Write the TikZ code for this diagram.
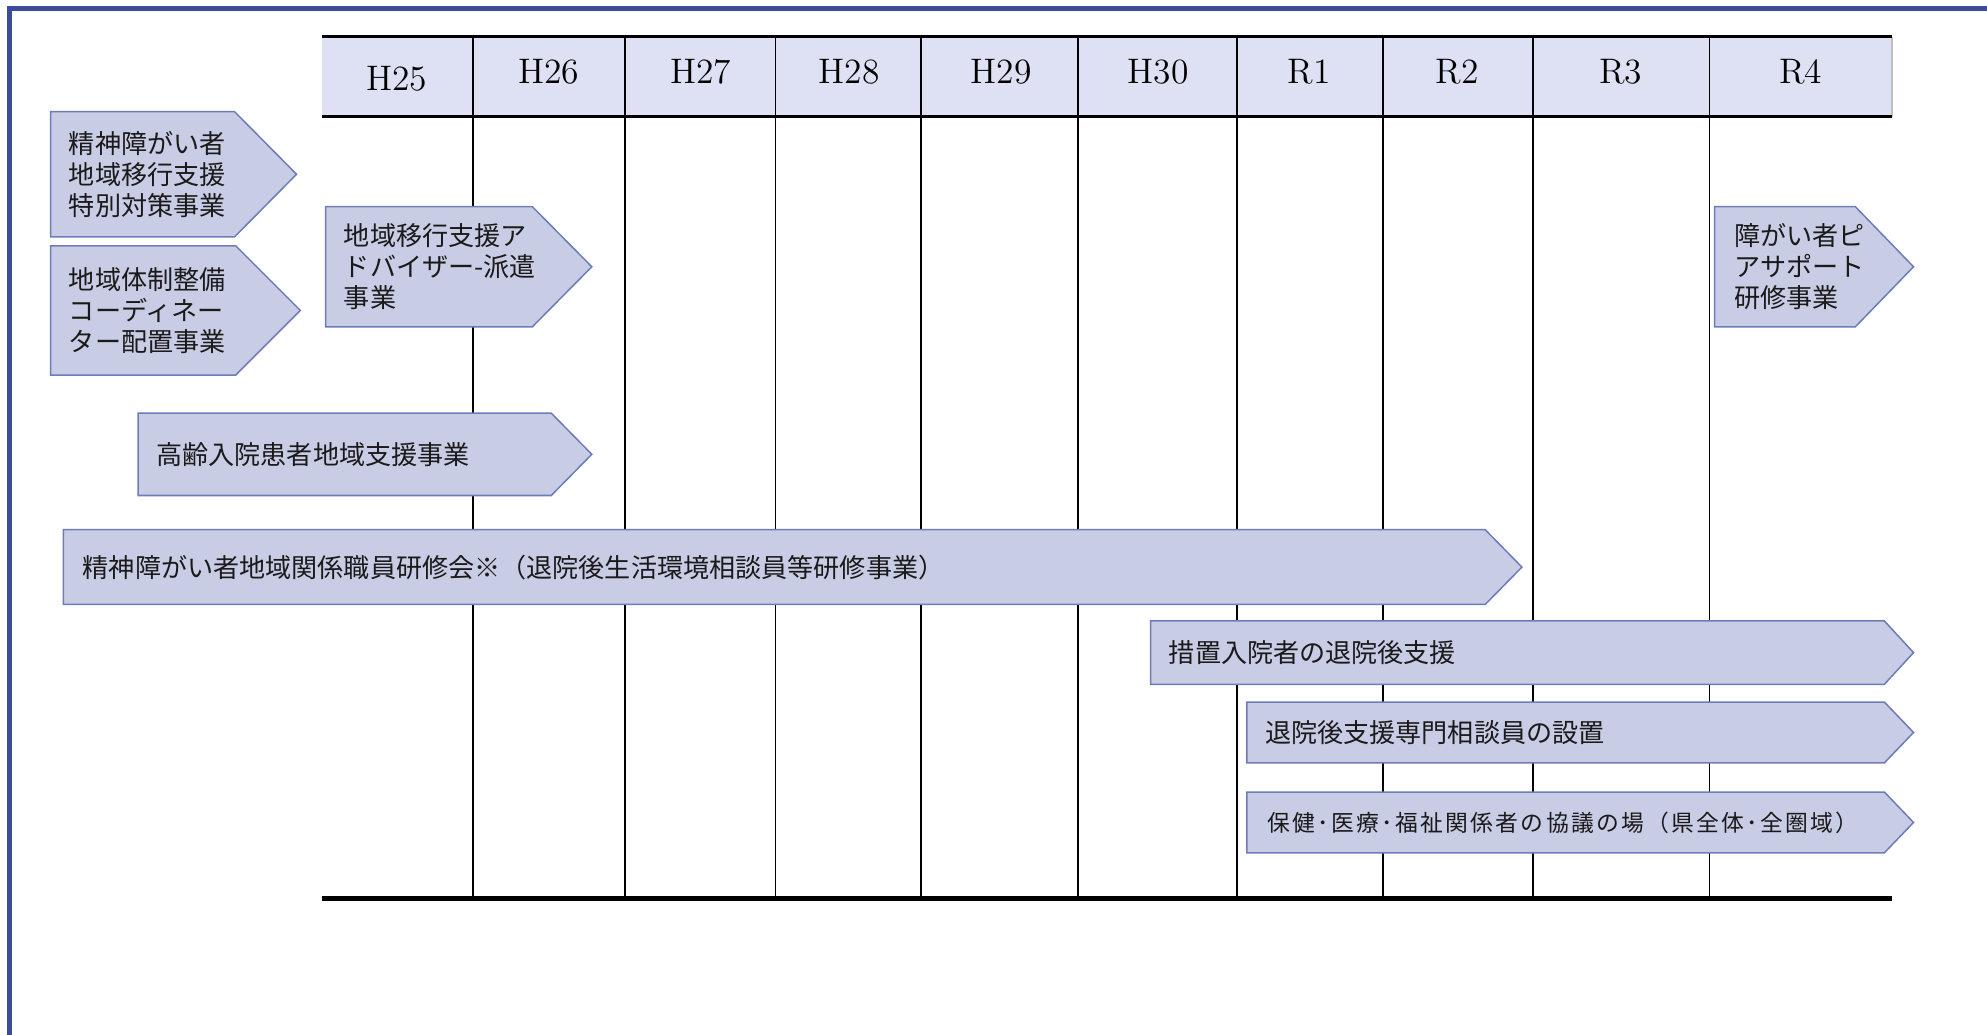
\documentclass[tikz,border=0pt]{standalone}
\usepackage{fontspec}
\newfontfamily\jp{Noto Sans CJK JP}
\newfontfamily\jpsp{Noto Sans CJK JP}[LetterSpace=10]
\definecolor{framecol}{HTML}{3B4C9B}
\definecolor{headfill}{HTML}{DDE1F3}
\definecolor{boxfill}{HTML}{C8CCE5}
\definecolor{boxline}{HTML}{6E7DB8}
\definecolor{txt}{HTML}{1A1A1A}
\newcommand\pentarrow[8]{%
  \draw[arrowshape] (#2,#5) -- (#3,#5) -- (#4,{(#5+#6)/2}) -- (#3,#6) -- (#2,#6) -- cycle;
  \node[arrowtext] (#1) at (#7,{(#5+#6)/2}) {#8};
}
\begin{document}
\begin{tikzpicture}[x=0.5pt,y=-0.5pt,
  arrowshape/.style={fill=boxfill, draw=boxline, line width=0.6pt, line join=miter},
  arrowtext/.style={anchor=west, align=left, inner sep=0pt, text=txt, font=\jp\fontsize{10.3}{12.3}\selectfont},
  yearlabel/.style={inner sep=0pt, font=\fontsize{14}{14}\selectfont},
  vline/.style={line width=0.75pt},
  hline/.style={line width=1.3pt}]
\useasboundingbox (0,0) rectangle (1568,816);
\clip (0,0) rectangle (1568,816);
% frame
\draw[framecol, line width=2pt] (7.5,830) -- (7.5,6.5) -- (1580,6.5);
% header
\fill[headfill] (254,29) rectangle (1493,92);
\draw[gray!50, line width=0.5pt] (1493,29) -- (1493,92);
\foreach \x in {373,493,612,727,851,976,1091,1210,1349}
  \draw[vline] (\x,29) -- (\x,709);
\draw[hline] (254,29) -- (1493,29);
\draw[hline] (254,92) -- (1493,92);
\draw[line width=1.6pt] (254,709) -- (1493,709);
% year labels
\node[yearlabel] (y25) at (313,62) {H25};
\node[yearlabel] (y26) at (433,57) {H26};
\node[yearlabel] (y27) at (553,57) {H27};
\node[yearlabel] (y28) at (670,57) {H28};
\node[yearlabel] (y29) at (790,57) {H29};
\node[yearlabel] (y30) at (914,57) {H30};
\node[yearlabel] (r1) at (1033,57) {R1};
\node[yearlabel] (r2) at (1150,57) {R2};
\node[yearlabel] (r3) at (1279,57) {R3};
\node[yearlabel] (r4) at (1421,57) {R4};
% arrows
\pentarrow{a1}{40}{185}{234}{88}{187}{54}{精神障がい者\\地域移行支援\\特別対策事業}
\pentarrow{a2}{40}{186}{237}{194}{296}{54}{地域体制整備\\コーディネー\\ター配置事業}
\pentarrow{a3}{257}{420}{467}{163}{258}{271}{地域移行支援ア\\ドバイザー-派遣\\事業}
\pentarrow{a4}{1353}{1464}{1510}{163}{258}{1368}{障がい者ピ\\アサポート\\研修事業}
\pentarrow{a5}{109}{435}{467}{326}{391}{123}{高齢入院患者地域支援事業}
\pentarrow{a6}{50}{1172}{1201}{418}{477}{65}{精神障がい者地域関係職員研修会※（退院後生活環境相談員等研修事業）}
\pentarrow{a7}{908}{1487}{1510}{490}{540}{922}{措置入院者の退院後支援}
\pentarrow{a8}{984}{1487}{1510}{554}{602}{998}{退院後支援専門相談員の設置}
\pentarrow{a9}{984}{1487}{1510}{625}{673}{1000}{{\jpsp\fontsize{9}{10}\selectfont 保健･医療･福祉関係者の協議の場（県全体･全圏域）}}
\end{tikzpicture}
\end{document}
